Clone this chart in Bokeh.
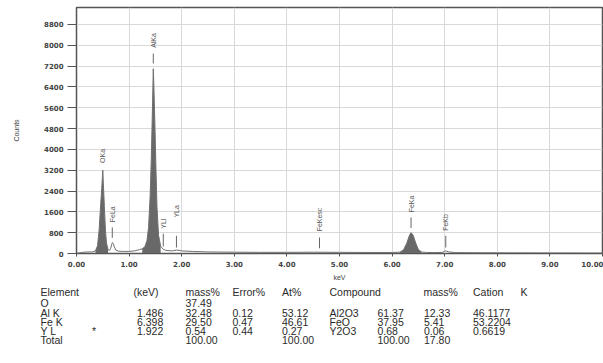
import numpy as np
from bokeh.plotting import figure
from bokeh.models import Range1d, FixedTicker, ColumnDataSource, NumeralTickFormatter
from bokeh.layouts import column
from bokeh.embed import file_html
from bokeh.resources import INLINE
from bokeh.core.properties import value

# ---- spectrum ----
energy = [0.00, 0.05, 0.10, 0.20, 0.30, 0.36, 0.40, 0.43, 0.46, 0.48,
          0.50, 0.51, 0.53, 0.55, 0.57, 0.60, 0.63, 0.65, 0.67, 0.68,
          0.70, 0.72, 0.75, 0.80, 0.90, 1.00, 1.10, 1.20, 1.25, 1.30,
          1.34, 1.37, 1.40, 1.42, 1.44, 1.46, 1.47, 1.49, 1.51, 1.53,
          1.56, 1.60, 1.65, 1.70, 1.80, 1.85, 1.90, 1.95, 2.00, 2.20,
          2.50, 3.00, 3.50, 4.00, 4.50, 5.00, 5.50, 6.00, 6.15, 6.22,
          6.28, 6.33, 6.36, 6.40, 6.45, 6.50, 6.56, 6.65, 6.80, 6.95,
          7.02, 7.08, 7.20, 7.50, 8.00, 9.00, 10.00]
counts = [0, 20, 40, 60, 60, 100, 300, 900, 1900, 2500,
          3200, 2700, 1800, 900, 400, 150, 120, 200, 350, 420,
          380, 250, 130, 90, 80, 80, 100, 150, 180, 260,
          500, 1000, 2200, 3500, 5200, 7100, 6500, 5000, 3300, 1800,
          700, 280, 160, 120, 100, 110, 130, 120, 100, 80,
          60, 50, 45, 45, 50, 45, 40, 40, 50, 150,
          400, 700, 800, 700, 400, 150, 60, 40, 35, 40,
          100, 60, 35, 30, 25, 20, 15]
roi_ranges = [(0.36, 0.60), (1.25, 1.60), (6.15, 6.56)]

# ---- line markers ----
line_names = ["OKa", "FeLa", "AlKa", "YLl", "YLa", "FeKesc", "FeKa", "FeKb"]
line_energy = [0.50, 0.68, 1.46, 1.65, 1.90, 4.62, 6.36, 7.02]
label_base = [3480, 1200, 7900, 950, 1380, 850, 1580, 870]
marker_lo = [3300, 600, 7300, 270, 230, 200, 980, 230]
marker_hi = [3300, 1000, 7680, 760, 680, 615, 1385, 680]

# ---- axes ticks ----
y_ticks = [0, 800, 1600, 2400, 3200, 4000, 4800, 5600, 6400, 7200, 8000, 8800]
x_ticks = [0, 1, 2, 3, 4, 5, 6, 7, 8, 9, 10]

# ---- quantification table ----
headers = ["Element", "(keV)", "mass%", "Error%", "At%", "Compound", "mass%", "Cation", "K"]
elements = ["O", "Al K", "Fe K", "Y L", "Total"]
flags = ["", "", "", "*", ""]
kev = ["", "1.486", "6.398", "1.922", ""]
mass = ["37.49", "32.48", "29.50", "0.54", "100.00"]
error = ["", "0.12", "0.47", "0.44", ""]
atomic = ["", "53.12", "46.61", "0.27", "100.00"]
compounds = ["", "Al2O3", "FeO", "Y2O3", ""]
comp_mass = ["", "61.37", "37.95", "0.68", "100.00"]
cations = ["", "12.33", "5.41", "0.06", "17.80"]
k_ratio = ["", "46.1177", "53.2204", "0.6619", ""]

TXT = "#2a2a2a"
FONT = "Liberation Sans"
TICKFONT = "DejaVu Sans"

p = figure(width=603, height=283, x_range=Range1d(0, 10), y_range=Range1d(0, 9450),
           output_backend="svg", toolbar_location=None,
           min_border_left=76, min_border_right=1, min_border_top=7, min_border_bottom=30)

p.background_fill_color = "white"
p.outline_line_color = "#555555"
p.outline_line_width = 1.5
p.xgrid.ticker = FixedTicker(ticks=x_ticks)
p.ygrid.ticker = FixedTicker(ticks=y_ticks)
p.grid.grid_line_color = "#d9d9d9"
p.grid.grid_line_width = 1

p.xaxis.ticker = FixedTicker(ticks=x_ticks)
p.yaxis.ticker = FixedTicker(ticks=y_ticks)
p.xaxis.formatter = NumeralTickFormatter(format="0.00")
p.yaxis.formatter = NumeralTickFormatter(format="0")
for ax in (p.xaxis, p.yaxis):
    ax.axis_line_color = "#555555"
    ax.major_tick_line_color = "#555555"
    ax.minor_tick_line_color = None
    ax.major_tick_in = 0
    ax.major_label_text_font = TICKFONT
    ax.major_label_text_font_style = "bold"
    ax.major_label_text_font_size = "7px"
    ax.major_label_text_color = "#444444"
    ax.axis_label_text_font = FONT
    ax.axis_label_text_font_style = "normal"
    ax.axis_label_text_font_size = "7px"
    ax.axis_label_text_color = "#444444"
p.yaxis.major_tick_out = 9
p.yaxis.major_label_standoff = 4
p.yaxis.axis_label = "Counts"
p.yaxis.axis_label_standoff = 21
p.xaxis.major_tick_out = 3
p.xaxis.major_label_standoff = 4
p.xaxis.axis_label = "keV"
p.xaxis.axis_label_standoff = 4

e = np.array(energy)
c = np.array(counts)
for lo, hi in roi_ranges:
    m = (e >= lo) & (e <= hi)
    p.varea(x=e[m], y1=0, y2=c[m], fill_color="#686868")
p.line(energy, counts, line_color="#707070", line_width=1)

mk = ColumnDataSource(dict(x=line_energy, lo=marker_lo, hi=marker_hi,
                           base=label_base, name=line_names))
p.segment(x0="x", y0="lo", x1="x", y1="hi", source=mk, line_color="#666666", line_width=1)
p.text(x="x", y="base", text="name", source=mk, angle=np.pi / 2,
       text_font=value(FONT), text_font_size="7px", text_color="#555555",
       text_align="left", text_baseline="middle")

# ---- table figure (opt out of frame alignment with the chart) ----
t = figure(width=603, height=80, x_range=Range1d(0, 603), y_range=Range1d(363, 283),
           output_backend="svg", toolbar_location=None, min_border=0,
           x_axis_type=None, y_axis_type=None)
t.frame_align = False
t.outline_line_color = None
t.grid.visible = False

header_x = [40, 133, 185, 232, 281.5, 329, 423, 472.5, 520]
header_y = 291
row_y = [302.7, 312.3, 321.2, 330.2, 339.8]
cols = [(40, elements), (91.5, flags), (136.5, kev), (185, mass), (232, error),
        (281.5, atomic), (329, compounds), (377, comp_mass), (423.5, cations), (472.5, k_ratio)]

xs, ys, txt = [], [], []
for hx, h in zip(header_x, headers):
    xs.append(hx); ys.append(header_y); txt.append(h)
for cx, vals in cols:
    for ry, v in zip(row_y, vals):
        if v:
            xs.append(cx); ys.append(ry); txt.append(v)
t.text(x=xs, y=ys, text=txt, text_font=value(FONT), text_font_size="10.5px",
       text_color=TXT, text_align="left", text_baseline="middle")

layout = column(p, t, spacing=0)
open("out.html", "w").write(file_html(layout, INLINE))
